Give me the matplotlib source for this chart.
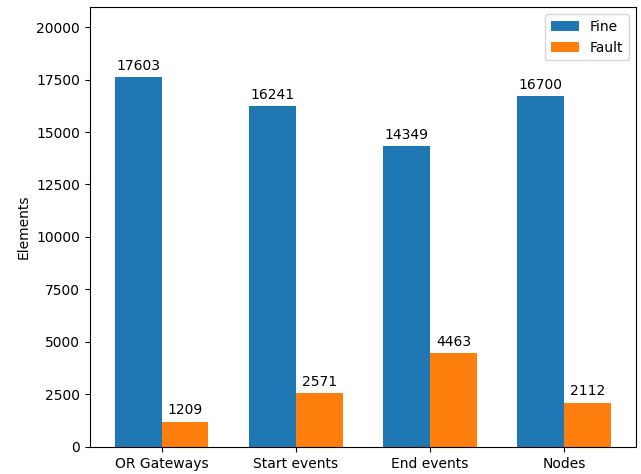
import matplotlib
matplotlib.use("Agg")
import matplotlib.pyplot as plt
import numpy as np

categories = ["OR Gateways", "Start events", "End events", "Nodes"]
fine = [17603, 16241, 14349, 16700]
fault = [1209, 2571, 4463, 2112]

fig, ax = plt.subplots(figsize=(6.41, 4.74), dpi=100)
x = np.arange(len(categories))
w = 0.35
b1 = ax.bar(x - w/2, fine, w, label="Fine")
b2 = ax.bar(x + w/2, fault, w, label="Fault")
ax.bar_label(b1, padding=3)
ax.bar_label(b2, padding=3)
ax.set_xticks(x)
ax.set_xticklabels(categories)
ax.set_ylabel("Elements")
ax.set_ylim(0, max(fine) * 1.19)
ax.legend(loc="upper right")
fig.subplots_adjust(left=0.140, right=0.992, top=0.985, bottom=0.057)
fig.savefig("out.png", dpi=100)
